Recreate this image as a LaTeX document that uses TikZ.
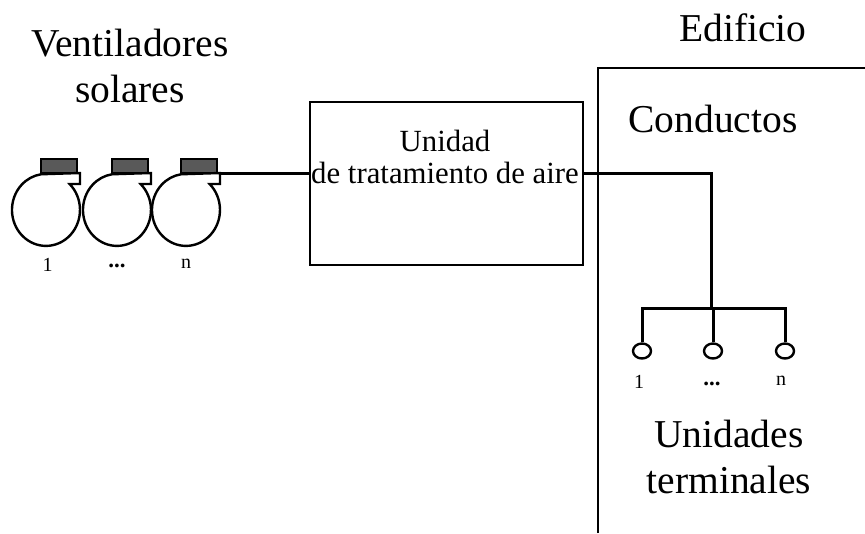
\documentclass[tikz,border=0pt]{standalone}
\usepackage{fontspec}
\setmainfont{Liberation Serif}
\usetikzlibrary{shapes.geometric}
\tikzset{
  wire/.style={line width=3pt},
  fanbody/.style={line width=2.4pt, line join=miter},
  housing/.style={draw=black, fill=black!65, line width=2pt},
  outline/.style={line width=2pt},
  big/.style={font=\fontsize{39.5}{46}\selectfont, align=center, inner sep=0pt},
  mid/.style={font=\fontsize{30.8}{32}\selectfont, align=center, inner sep=0pt},
  small/.style={font=\fontsize{20}{20}\selectfont, inner sep=0pt},
  dots/.style={font=\fontsize{23}{23}\selectfont\bfseries, inner sep=0pt},
  term/.style={draw, ellipse, line width=2.4pt, minimum width=18pt, minimum height=15pt, inner sep=0pt},
}
\newcommand{\fan}[1]{%
  \draw[housing] (#1-5,159) rectangle (#1+31,173);
  \draw[fanbody] ({#1+34*cos(262)},{209.9+36*sin(262)}) -- (#1+34,173) -- (#1+34,184) -- (#1+23.6,184)
    arc[start angle=-46, end angle=262, x radius=34, y radius=36];
}
\begin{document}
\begin{tikzpicture}[x=1pt,y=-1pt]
\useasboundingbox (0,0) rectangle (865,533);
% fans
\fan{46}
\fan{117}
\fan{186}
\coordinate (fanout) at (221,173);
\node[draw, outline, minimum width=273pt, minimum height=163pt, inner sep=0pt] (ahu) at (446.5,183.5) {};
\node[mid] (ahut) at (445,157) {Unidad\\de tratamiento de aire};
\draw[wire] (fanout) -- (ahu.west |- fanout);
% building
\coordinate (b1) at (598,533);
\coordinate (b2) at (598,68);
\coordinate (b3) at (865,68);
\draw[outline] (b1) -- (b2) -- (b3);
% ducts
\coordinate (j1) at (711,173);
\coordinate (j2) at (711,308);
\node[term] (t1) at (642,351) {};
\node[term] (t2) at (713,351) {};
\node[term] (t3) at (785,351) {};
\coordinate (h1) at (642,308);
\coordinate (h2) at (713,308);
\coordinate (h3) at (785,308);
\draw[wire] (ahu.east |- j1) -- (j1) -- (j2);
\draw[wire, line join=miter] (t1.north) -- (h1) -- (h3) -- (t3.north);
\draw[wire] (h2) -- (t2.north);
% labels
\node[big] (lv) at (130,66) {Ventiladores\\solares};
\node[big] (le) at (743,28) {Edificio};
\node[big] (lc) at (713,119) {Conductos};
\node[big] (lu) at (729,457) {Unidades\\terminales};
\node[small] (f1) at (47.5,265) {1};
\node[dots] (f2) at (117,266) {...};
\node[small] (f3) at (186,264) {n};
\node[small] (u1) at (639,381.5) {1};
\node[dots] (u2) at (712,384) {...};
\node[small] (u3) at (781,381) {n};
\end{tikzpicture}
\end{document}
